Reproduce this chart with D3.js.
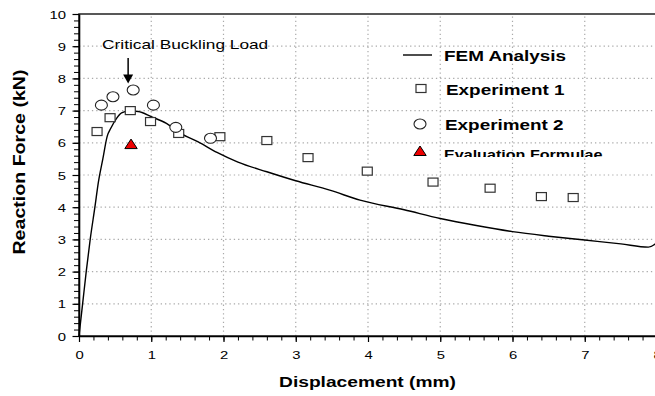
<!DOCTYPE html>
<html>
<head>
<meta charset="utf-8">
<script src="https://cdn.jsdelivr.net/npm/d3@7"></script>
<style>
    body { margin: 0; background: #fff; }
    svg { display: block; font-family: "Liberation Sans", Arial, sans-serif; }
</style>
</head>
<body>
<div class="container"></div>
<script>
// FEM curve (displacement mm, force kN)
var femX = [0, 0.05, 0.1, 0.155, 0.22, 0.27, 0.33, 0.39, 0.44, 0.52, 0.59, 0.7, 0.82, 1.0, 1.21, 1.4, 1.65, 1.91, 2.2, 2.6, 3.0, 3.47, 3.89, 4.5, 5.0, 5.5, 6.0, 6.5, 7.0, 7.5, 7.88, 8.0];
var femY = [0, 1.0, 2.0, 3.0, 4.0, 4.8, 5.5, 6.2, 6.45, 6.76, 6.93, 6.99, 6.97, 6.81, 6.6, 6.3, 6.03, 5.7, 5.4, 5.1, 4.82, 4.53, 4.22, 3.92, 3.65, 3.43, 3.24, 3.1, 2.98, 2.86, 2.76, 2.9];

var exp1X = [0.25, 0.43, 0.71, 0.99, 1.38, 1.95, 2.6, 3.17, 3.99, 4.9, 5.69, 6.4, 6.84];
var exp1Y = [6.35, 6.78, 7.0, 6.66, 6.29, 6.19, 6.07, 5.54, 5.12, 4.78, 4.59, 4.33, 4.3];

var exp2X = [0.31, 0.47, 0.75, 1.03, 1.34, 1.82];
var exp2Y = [7.17, 7.43, 7.64, 7.17, 6.48, 6.14];

var evalX = [0.72];
var evalY = [5.96];

var xTicks = [0, 1, 2, 3, 4, 5, 6, 7, 8];
var yTicks = [0, 1, 2, 3, 4, 5, 6, 7, 8, 9, 10];
var legendLabels = ['FEM Analysis', 'Experiment 1', 'Experiment 2', 'Evaluation Formulae'];

var W = 655, H = 396;
var translate = (x, y) => `translate(${ x },${ y })`;

var svg = d3.select('.container').append('svg')
    .attr('width', W)
    .attr('height', H);

var x = d3.scaleLinear().domain([0, 8]).range([79, 657]);
var y = d3.scaleLinear().domain([0, 10]).range([336, 14]);

var addText = (g, str, tx, ty, {size, weight, sx, sy, anchor, rotate}) => {
    return g.append('text')
        .attr('transform', translate(tx, ty) + (rotate ? ` rotate(${ rotate })` : '') + ` scale(${ sx || 1 },${ sy || 1 })`)
        .attr('text-anchor', anchor || 'start')
        .attr('font-size', size)
        .attr('font-weight', weight || 'normal')
        .attr('fill', '#000')
        .text(str);
}

// grid
var grid = svg.append('g').attr('stroke', '#aaa').attr('stroke-width', 1.2).attr('stroke-dasharray', '1.3,3');
grid.selectAll('.gx').data(xTicks.slice(1, -1)).enter().append('line')
    .attr('x1', x).attr('x2', x).attr('y1', y(0)).attr('y2', y(10));
grid.selectAll('.gy').data(yTicks.slice(1, -1)).enter().append('line')
    .attr('x1', x(0)).attr('x2', x(8)).attr('y1', y).attr('y2', y);

// frame top/right
svg.append('rect')
    .attr('x', x(0)).attr('y', y(10))
    .attr('width', x(8) - x(0)).attr('height', y(0) - y(10))
    .attr('fill', 'none').attr('stroke', '#222').attr('stroke-width', 1.5);

// minor ticks
var minorX = d3.range(0, 8.01, 0.2).map(d => +d.toFixed(1));
var minorY = d3.range(0, 10.01, 0.2).map(d => +d.toFixed(1));

svg.append('g')
    .attr('transform', translate(0, y(0)))
    .call(d3.axisBottom(x).tickValues(minorX).tickSize(4.5).tickFormat(''))
    .call(g => g.select('.domain').remove());
svg.append('g')
    .attr('transform', translate(x(0), 0))
    .call(d3.axisLeft(y).tickValues(minorY).tickSize(5).tickFormat(''))
    .call(g => g.select('.domain').remove());

// major axes
var xAxis = svg.append('g')
    .attr('transform', translate(0, y(0)))
    .call(d3.axisBottom(x).tickValues(xTicks).tickSize(6).tickSizeOuter(0).tickFormat(d3.format('d')));
xAxis.selectAll('text')
    .attr('y', 0).attr('dy', 0)
    .attr('transform', 'translate(0,23) scale(1.35,1)')
    .attr('font-size', 11).attr('fill', '#000')
    .attr('font-family', '"Liberation Sans", Arial, sans-serif');

var yAxis = svg.append('g')
    .attr('transform', translate(x(0), 0))
    .call(d3.axisLeft(y).tickValues(yTicks).tickSize(6.5).tickSizeOuter(0).tickFormat(d3.format('d')));
yAxis.selectAll('text')
    .attr('x', 0).attr('dy', 0)
    .attr('transform', 'translate(-13,4) scale(1.35,1)')
    .attr('font-size', 11).attr('fill', '#000')
    .attr('font-family', '"Liberation Sans", Arial, sans-serif');

[xAxis, yAxis].forEach(a => {
    a.select('.domain').attr('stroke', '#000').attr('stroke-width', 1.6);
    a.selectAll('line').attr('stroke', '#000').attr('stroke-width', 1.2);
});

// FEM line
var fem = femX.map((d, i) => [d, femY[i]]);
svg.append('path')
    .datum(fem)
    .attr('fill', 'none')
    .attr('stroke', '#000')
    .attr('stroke-width', 1.4)
    .attr('d', d3.line().x(d => x(d[0])).y(d => y(d[1])).curve(d3.curveMonotoneX));

// markers
var drawSquare = (g, cx, cy) => g.append('rect')
    .attr('x', cx - 5).attr('y', cy - 4).attr('width', 10).attr('height', 8)
    .attr('fill', '#fff').attr('stroke', '#333').attr('stroke-width', 1.2);
var drawCircle = (g, cx, cy) => g.append('ellipse')
    .attr('cx', cx).attr('cy', cy).attr('rx', 6).attr('ry', 5)
    .attr('fill', '#fff').attr('stroke', '#222').attr('stroke-width', 1.1);
var drawTriangle = (g, cx, cy) => g.append('path')
    .attr('d', `M${ cx },${ cy - 5 }L${ cx + 6.2 },${ cy + 4.5 }L${ cx - 6.2 },${ cy + 4.5 }Z`)
    .attr('fill', '#ee0000').attr('stroke', '#000').attr('stroke-width', 1);

var marks = svg.append('g');
exp1X.forEach((d, i) => drawSquare(marks, x(d), y(exp1Y[i])));
exp2X.forEach((d, i) => drawCircle(marks, x(d), y(exp2Y[i])));
evalX.forEach((d, i) => drawTriangle(marks, x(d), y(evalY[i])));

// annotation
var ann = svg.append('g');
addText(ann, 'Critical Buckling Load', x(0.32), y(8.91), {size: 13.5, sx: 1.28});
ann.append('line')
    .attr('x1', x(0.68)).attr('x2', x(0.68))
    .attr('y1', y(8.63)).attr('y2', y(8.05))
    .attr('stroke', '#000').attr('stroke-width', 1.5);
ann.append('path')
    .attr('d', `M${ x(0.68) - 5 },${ y(8.12) }L${ x(0.68) + 5 },${ y(8.12) }L${ x(0.68) },${ y(7.84) }Z`)
    .attr('fill', '#000');

// legend
var leg = svg.append('g');
leg.append('line')
    .attr('x1', 403).attr('x2', 432).attr('y1', 55).attr('y2', 55)
    .attr('stroke', '#000').attr('stroke-width', 1.4);
drawSquare(leg, 421, 88.5);
drawCircle(leg, 420, 124);
drawTriangle(leg, 420, 151);

addText(leg, legendLabels[0], 444, 61, {size: 15, weight: 'bold', sx: 1.26});
addText(leg, legendLabels[1], 446, 95, {size: 15, weight: 'bold', sx: 1.26});
addText(leg, legendLabels[2], 445, 130, {size: 15, weight: 'bold', sx: 1.26});

svg.append('clipPath').attr('id', 'legClip')
    .append('rect').attr('x', 430).attr('y', 138).attr('width', 220).attr('height', 19);
addText(leg.append('g').attr('clip-path', 'url(#legClip)'), legendLabels[3], 444, 158.6, {size: 13, weight: 'bold', sx: 1.24});

// axis titles
addText(svg, 'Displacement (mm)', 367.5, 386.5, {size: 14, weight: 'bold', sx: 1.37, anchor: 'middle'});
addText(svg, 'Reaction Force (kN)', 25, 162, {size: 14, weight: 'bold', sx: 1.4, sy: 1.2, anchor: 'middle', rotate: -90});
</script>
</body>
</html>
